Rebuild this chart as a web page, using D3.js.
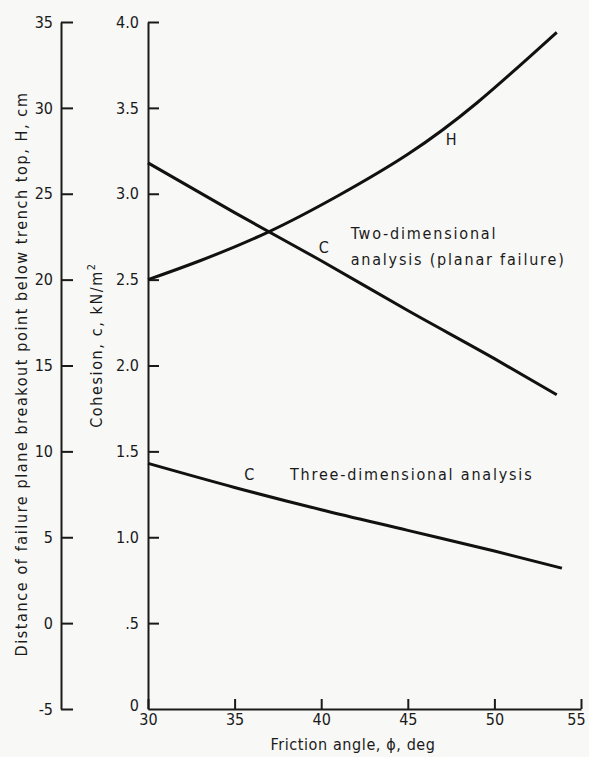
<!DOCTYPE html>
<html><head><meta charset="utf-8">
<script src="https://cdn.jsdelivr.net/npm/d3@7"></script>
<style>
html,body{margin:0;padding:0;background:#f8f8f6;}
svg{display:block;}
text{font-family:"DejaVu Sans Condensed","DejaVu Sans",sans-serif;fill:#1a1a1a;}
</style></head>
<body>
<svg id="chart" width="589" height="757"></svg>
<script>
// ---- data ----
const phiTicks = [30, 35, 40, 45, 50, 55];
const cohesionTicks = [0, 0.5, 1.0, 1.5, 2.0, 2.5, 3.0, 3.5, 4.0];
const cohesionTickLabels = ["0", ".5", "1.0", "1.5", "2.0", "2.5", "3.0", "3.5", "4.0"];
const hTicks = [-5, 0, 5, 10, 15, 20, 25, 30, 35];
const hTickLabels = ["-5", "0", "5", "10", "15", "20", "25", "30", "35"];

const phiTwoDim = [30, 35, 40, 45, 50, 53.6];
const cTwoDim = [3.18, 2.89, 2.61, 2.32, 2.04, 1.83];

const phiThreeDim = [30, 35, 40, 45, 50, 53.9];
const cThreeDim = [1.43, 1.29, 1.16, 1.04, 0.92, 0.82];

const phiH = [30, 33, 37, 41, 45, 49, 53.6];
const hValues = [20.0, 21.1, 22.8, 24.9, 27.3, 30.3, 34.4];

// ---- chart ----
const svg = d3.select("#chart");
const x = d3.scaleLinear().domain([30, 55]).range([148, 581]);
const yC = d3.scaleLinear().domain([0, 4]).range([709, 22]);
const yH = d3.scaleLinear().domain([-5, 35]).range([709, 22]);

const fs = "16px";

// outer H axis
const hAxis = svg.append("g").attr("transform", "translate(61,0)")
  .call(d3.axisLeft(yH).tickValues(hTicks).tickSizeInner(-12).tickSizeOuter(0).tickPadding(8)
    .tickFormat((d, i) => hTickLabels[i]));
// inner cohesion axis
const cAxis = svg.append("g").attr("transform", "translate(148,0)")
  .call(d3.axisLeft(yC).tickValues(cohesionTicks).tickSizeInner(-11).tickSizeOuter(0).tickPadding(9)
    .tickFormat((d, i) => cohesionTickLabels[i]));
// bottom axis
const xAxis = svg.append("g").attr("transform", "translate(0,709)")
  .call(d3.axisBottom(x).tickValues(phiTicks).tickSizeInner(-10).tickSizeOuter(0).tickPadding(5).tickFormat(d3.format("d")));

[hAxis, cAxis, xAxis].forEach(g => {
  g.select(".domain").attr("stroke", "#1a1a1a").attr("stroke-width", 2);
  g.selectAll(".tick line").attr("stroke", "#1a1a1a").attr("stroke-width", 2);
  g.selectAll(".tick text").style("font-size", fs).attr("fill", "#1a1a1a");
});
// the cohesion 0 tick coincides with the x axis
cAxis.selectAll(".tick").filter(d => d === 0).select("line").remove();
cAxis.selectAll(".tick").filter(d => d === 0).select("text").attr("dy", "0.1em");
// keep the last x label inside the page
xAxis.selectAll(".tick").filter(d => d === 55).select("text").attr("dx", -5);

// axis titles
svg.append("text")
  .attr("transform", "translate(22," + 374 + ") rotate(-90)")
  .attr("text-anchor", "middle").attr("dominant-baseline", "middle")
  .style("font-size", fs).style("letter-spacing", "1.6px")
  .text("Distance of failure plane breakout point below trench top, H, cm");

const ct = svg.append("text")
  .attr("transform", "translate(97," + 345 + ") rotate(-90)")
  .attr("text-anchor", "middle").attr("dominant-baseline", "middle")
  .style("font-size", fs).style("letter-spacing", "1.6px");
ct.append("tspan").text("Cohesion, c, kN/m");
ct.append("tspan").attr("dy", "-0.45em").style("font-size", "11px").text("2");

svg.append("text")
  .attr("x", 353).attr("y", 750).attr("text-anchor", "middle")
  .style("font-size", fs).style("letter-spacing", "0.6px")
  .text("Friction angle, \u03D5, deg");

// curves
const lineC = d3.line().x(d => x(d[0])).y(d => yC(d[1])).curve(d3.curveMonotoneX);
const lineH = d3.line().x(d => x(d[0])).y(d => yH(d[1])).curve(d3.curveNatural);

svg.append("path").datum(d3.zip(phiTwoDim, cTwoDim)).attr("d", lineC)
  .attr("fill", "none").attr("stroke", "#111").attr("stroke-width", 3);
svg.append("path").datum(d3.zip(phiThreeDim, cThreeDim)).attr("d", lineC)
  .attr("fill", "none").attr("stroke", "#111").attr("stroke-width", 3);
svg.append("path").datum(d3.zip(phiH, hValues)).attr("d", lineH)
  .attr("fill", "none").attr("stroke", "#111").attr("stroke-width", 3);

// annotations
function label(txt, px, py, anchor) {
  return svg.append("text").attr("x", px).attr("y", py)
    .attr("text-anchor", anchor || "start")
    .style("font-size", fs).style("letter-spacing", "1.8px").text(txt);
}
label("H", x(47.55), yH(28.2) + 6, "middle");
label("C", x(40.2), yC(2.69) + 6, "middle");
label("Two-dimensional", x(41.7), yC(2.74) + 1);
label("analysis (planar failure)", x(41.7), yC(2.59) + 1);
label("C", x(35.9), yC(1.37) + 6, "middle");
label("Three-dimensional analysis", x(38.2), yC(1.37) + 6);
</script>
</body></html>
